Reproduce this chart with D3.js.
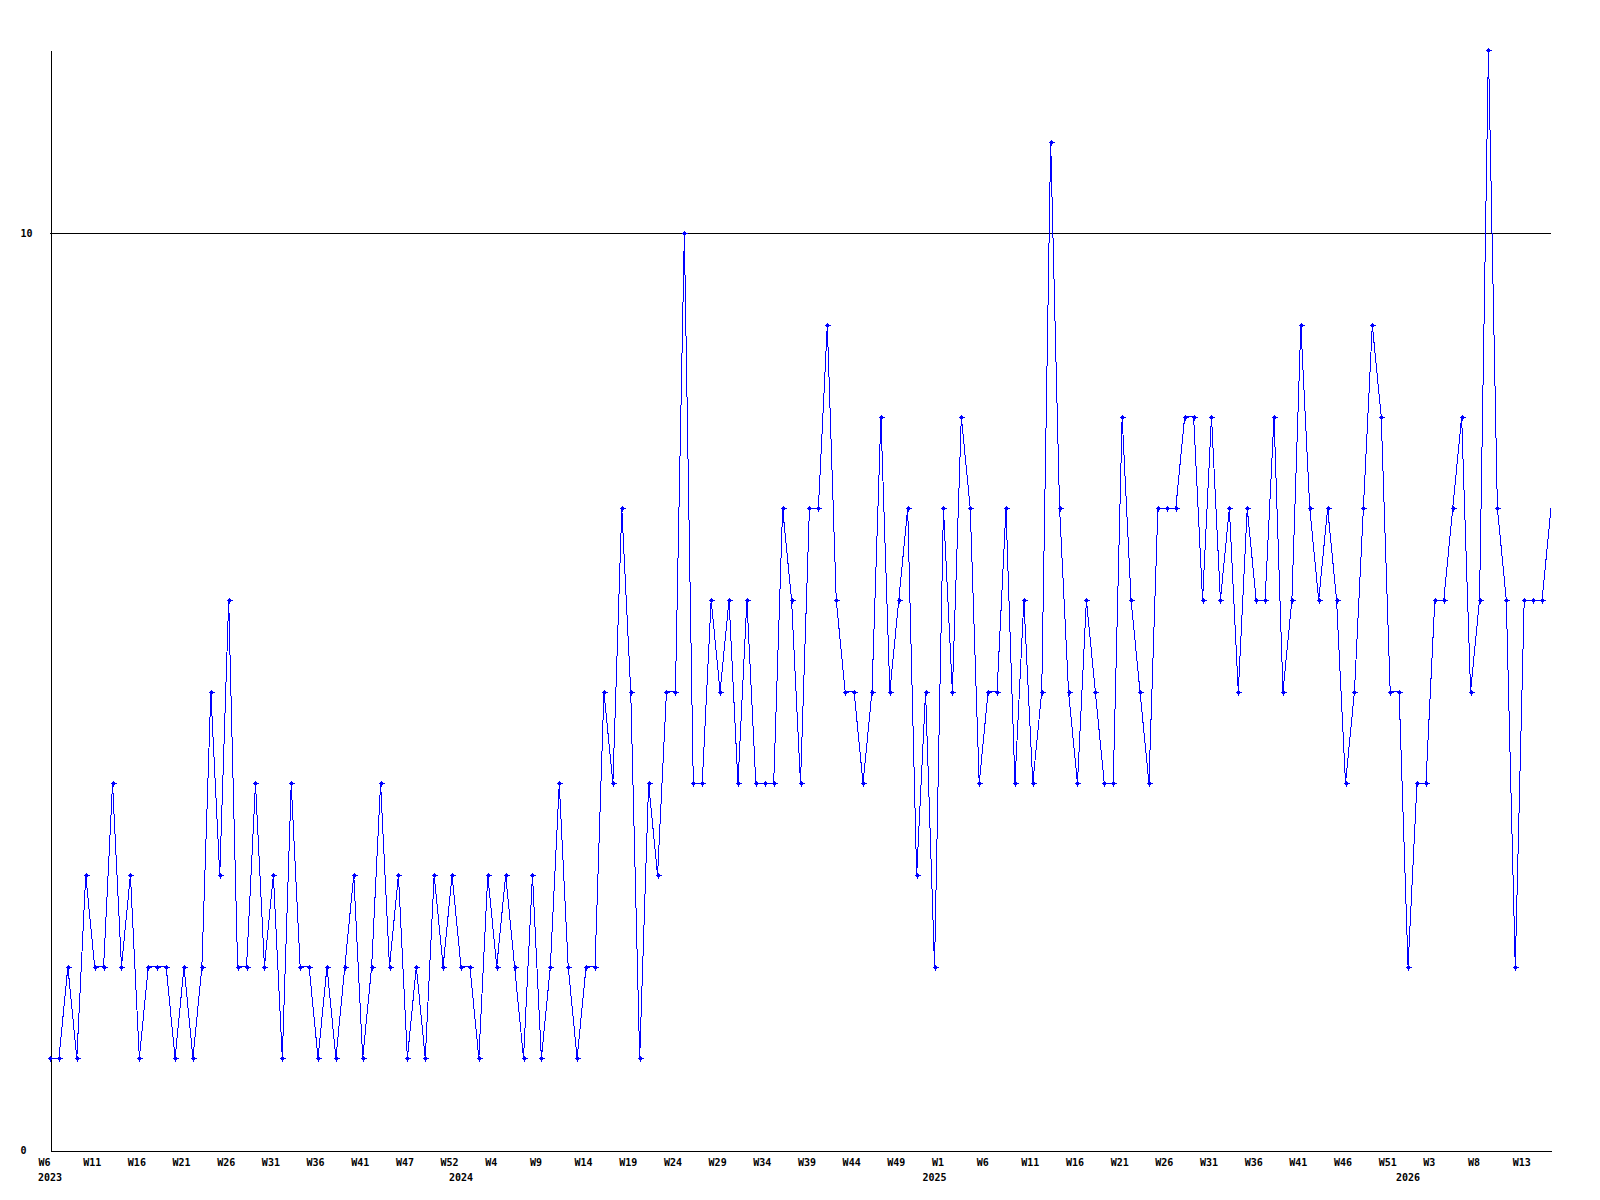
<!DOCTYPE html>
<html>
<head>
<meta charset="utf-8">
<script src="https://cdn.jsdelivr.net/npm/d3@7"></script>
<style>
  html, body { margin: 0; padding: 0; background: #ffffff; }
  svg { display: block; }
  text { font-family: "DejaVu Sans Mono", "Liberation Mono", monospace; font-weight: bold; font-size: 10px; fill: #000; }
</style>
</head>
<body>
<svg id="chart" width="1600" height="1200"></svg>
<script>
// Weekly values, starting at 2023 W6 (one value per week)
const values = [
  1,1,2,1,3,2,2,4,2,3,
  1,2,2,2,1,2,1,2,5,3,
  6,2,2,4,2,3,1,4,2,2,
  1,2,1,2,3,1,2,4,2,3,
  1,2,1,3,2,3,2,2,1,3,
  2,3,2,1,3,1,2,4,2,1,
  2,2,5,4,7,5,1,4,3,5,
  5,10,4,4,6,5,6,4,6,4,
  4,4,7,6,4,7,7,9,6,5,
  5,4,5,8,5,6,7,3,5,2,
  7,5,8,7,4,5,5,7,4,6,
  4,5,11,7,5,4,6,5,4,4,
  8,6,5,4,7,7,7,8,8,6,
  8,6,7,5,7,6,6,8,5,6,
  9,7,6,7,6,4,5,7,9,8,
  5,5,2,4,4,6,6,7,8,5,
  6,12,7,6,2,6,6,6,7
];

// Week tick labels (one every 5 weeks, index into the series)
const weekTickIndex = [0,5,10,15,20,25,30,35,40,45,50,55,60,65,70,75,80,85,90,95,100,105,110,115,120,125,130,135,140,145,150,155,160,165];
const weekTickLabels = ["W6","W11","W16","W21","W26","W31","W36","W41","W47","W52",
  "W4","W9","W14","W19","W24","W29","W34","W39","W44","W49",
  "W1","W6","W11","W16","W21","W26","W31","W36","W41","W46","W51",
  "W3","W8","W13"];

// Year labels and the week index where each year starts
const yearTickIndex = [0, 46, 99, 152];
const yearTickLabels = ["2023", "2024", "2025", "2026"];

// Y axis ticks and reference line
const yTicks = [0, 10];
const yRefLine = [10];
const yMax = 12;

const svg = d3.select("#chart");
const mLeft = 50, mRight = 1551, mTop = 50, mBottom = 1150;

const x = d3.scaleLinear().domain([0, values.length - 1]).range([mLeft, mRight]);
const y = d3.scaleLinear().domain([0, yMax]).range([mBottom, mTop]);

svg.append("rect").attr("width", 1600).attr("height", 1200).attr("fill", "#fff");

// reference (grid) line at 10
svg.append("g").selectAll("line").data(yRefLine).join("line")
  .attr("x1", mLeft).attr("x2", mRight)
  .attr("y1", d => Math.round(y(d)) + 0.5).attr("y2", d => Math.round(y(d)) + 0.5)
  .attr("stroke", "#000").attr("stroke-width", 1).attr("shape-rendering", "crispEdges");

// Y axis
const yAxis = d3.axisLeft(y).tickValues(yTicks).tickFormat(d3.format("d")).tickSize(0).tickSizeOuter(0);
const gy = svg.append("g").attr("transform", `translate(${mLeft + 0.5},0)`).call(yAxis);
gy.select(".domain").attr("stroke", "#000").attr("shape-rendering", "crispEdges");
gy.selectAll(".tick text")
  .attr("text-anchor", "start")
  .attr("x", 20 - mLeft)
  .attr("dy", "0.35em");
gy.attr("font-family", null).attr("font-size", null);

// X axis (weeks)
const xAxis = d3.axisBottom(x).tickValues(weekTickIndex)
  .tickFormat((d, i) => weekTickLabels[i]).tickSize(0).tickSizeOuter(0);
const gx = svg.append("g").attr("transform", `translate(0,${mBottom + 0.5})`).call(xAxis);
gx.select(".domain").attr("stroke", "#000").attr("shape-rendering", "crispEdges");
gx.selectAll(".tick text")
  .attr("text-anchor", "start")
  .attr("x", -12)
  .attr("y", 15)
  .attr("dy", 0);
gx.attr("font-family", null).attr("font-size", null);

// Year labels
svg.append("g").selectAll("text").data(yearTickIndex).join("text")
  .attr("x", d => x(d) - 12)
  .attr("y", 1181)
  .attr("text-anchor", "start")
  .text((d, i) => yearTickLabels[i]);

// Clip for plot area
svg.append("defs").append("clipPath").attr("id", "plotclip")
  .append("rect").attr("x", 0).attr("y", 0).attr("width", mRight - 3).attr("height", 1200);

// data line
const line = d3.line().x((d, i) => x(i)).y(d => y(d));
svg.append("path")
  .datum(values)
  .attr("d", line)
  .attr("fill", "none")
  .attr("stroke", "#0000ff")
  .attr("stroke-width", 1)
  .attr("shape-rendering", "crispEdges");

// markers
const mk = svg.append("g").attr("clip-path", "url(#plotclip)");
mk.selectAll("path").data(values).join("path")
  .attr("transform", (d, i) => `translate(${Math.round(x(i)) + 0.5},${Math.round(y(d)) + 0.5})`)
  .attr("d", "M-3,0H3M0,-3V3M-1,-1H1V1H-1Z")
  .attr("stroke", "#0000ff")
  .attr("fill", "#0000ff")
  .attr("stroke-width", 1)
  .attr("shape-rendering", "crispEdges");
</script>
</body>
</html>
